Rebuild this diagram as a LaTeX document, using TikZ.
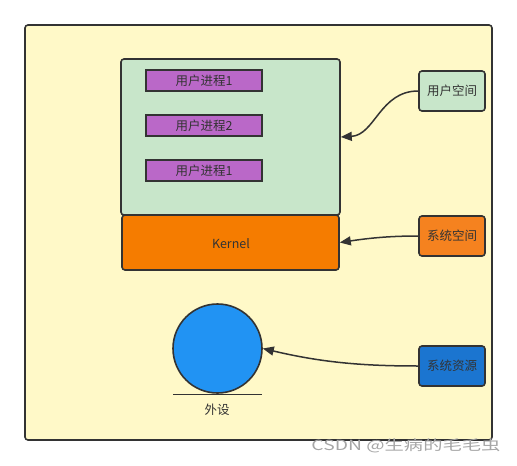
\documentclass[tikz,border=0pt]{standalone}
\usepackage{fontspec}
\newfontfamily\cjk{Noto Sans CJK SC}
\usetikzlibrary{arrows.meta}
\definecolor{linecol}{HTML}{333333}
\definecolor{bgyellow}{HTML}{FFF9C8}
\definecolor{usergreen}{HTML}{C8E6CA}
\definecolor{kernelorange}{HTML}{F57C00}
\definecolor{sysorange}{HTML}{F5821F}
\definecolor{procpurple}{HTML}{BA68C8}
\definecolor{circblue}{HTML}{2193F3}
\definecolor{resblue}{HTML}{1B75D0}
\tikzset{
  lbl/.style={text=linecol, font=\cjk\fontsize{12.5}{14}\selectfont},
  box/.style={lbl, draw=linecol, line width=1.6pt, rounded corners=3pt, inner sep=0pt},
  proc/.style={lbl, draw=linecol, line width=1.6pt, fill=procpurple, inner sep=0pt, minimum width=116pt, minimum height=21pt},
  side/.style={box, minimum width=66pt, minimum height=40pt},
  conn/.style={draw=linecol, line width=1.5pt, -{Triangle[length=11pt,width=9pt]}},
}
\begin{document}
\begin{tikzpicture}[x=1pt,y=-1pt]
\useasboundingbox (0,0) rectangle (517,466);
\fill[white] (0,0) rectangle (517,466);
\node[box, fill=bgyellow, minimum width=467pt, minimum height=415pt] (bg) at (258.5,232.5) {};
\node[box, fill=usergreen, minimum width=219pt, minimum height=156pt] (user) at (230.5,137) {};
\node[box, fill=kernelorange, minimum width=217pt, minimum height=55pt] (kernel) at (230.5,242.5) {};
\node[lbl] (ktext) at (231,244) {Kernel};
\node[proc] (p1) at (204,80.5) {用户进程1};
\node[proc] (p2) at (204,125.5) {用户进程2};
\node[proc] (p3) at (204,170.5) {用户进程1};
\node[side, fill=usergreen] (us) at (452,91) {用户空间};
\node[side, fill=sysorange] (ss) at (452,236) {系统空间};
\node[side, fill=resblue] (sr) at (452,366) {系统资源};
\node[circle, draw=linecol, line width=1.6pt, fill=circblue, minimum size=89pt, inner sep=0pt] (dev) at (217.5,348.5) {};
\coordinate (ul) at (173,394);
\coordinate (ur) at (262,394);
\draw[linecol, line width=1pt] (ul) -- (ur);
\node[lbl] (devlabel) at (217,410) {外设};
\draw[conn] (us.west) .. controls (380,91) and (375,135) .. (user.east);
\draw[conn] (ss.west) .. controls (390,236) and (370,238) .. (kernel.east);
\draw[conn] (sr.west) .. controls (360,366) and (320,362) .. (dev.east);
\node[text=black!35, font=\cjk\fontsize{14}{16}\selectfont] (wm) at (406,446) {\scalebox{1.38}[1]{CSDN @生病的毛毛虫}};
\end{tikzpicture}
\end{document}
